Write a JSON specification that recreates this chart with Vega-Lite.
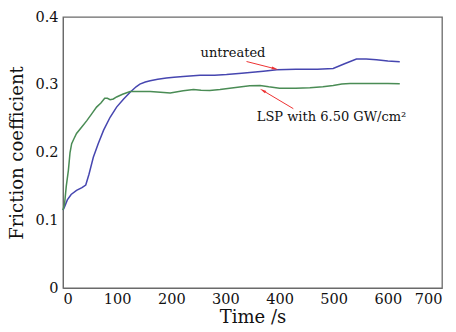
{
  "$schema": "https://vega.github.io/schema/vega-lite/v6.json",
  "width": 379,
  "height": 271,
  "autosize": "none",
  "padding": {"left": 63, "top": 17, "right": 14, "bottom": 44},
  "background": "white",
  "config": {
    "view": {"stroke": "#6a6a6a", "strokeWidth": 1.3},
    "font": "DejaVu Serif",
    "axis": {
      "labelFont": "DejaVu Serif",
      "titleFont": "DejaVu Serif",
      "labelColor": "#111",
      "titleColor": "#111",
      "labelFontSize": 14.5,
      "titleFontSize": 18,
      "titleFontWeight": "normal",
      "domainColor": "#6a6a6a",
      "tickColor": "#555555",
      "tickWidth": 1,
      "grid": false,
      "labelOverlap": false,
      "zindex": 1
    }
  },
  "datasets": {
    "friction": [
      {"series": "untreated", "t": 0, "f": 0.115},
      {"series": "untreated", "t": 3, "f": 0.12},
      {"series": "untreated", "t": 8, "f": 0.13},
      {"series": "untreated", "t": 15, "f": 0.138},
      {"series": "untreated", "t": 25, "f": 0.144},
      {"series": "untreated", "t": 35, "f": 0.148},
      {"series": "untreated", "t": 42, "f": 0.152},
      {"series": "untreated", "t": 48, "f": 0.168},
      {"series": "untreated", "t": 56, "f": 0.193},
      {"series": "untreated", "t": 65, "f": 0.213},
      {"series": "untreated", "t": 75, "f": 0.233},
      {"series": "untreated", "t": 87, "f": 0.252},
      {"series": "untreated", "t": 99, "f": 0.267},
      {"series": "untreated", "t": 112, "f": 0.279},
      {"series": "untreated", "t": 124, "f": 0.289},
      {"series": "untreated", "t": 135, "f": 0.297},
      {"series": "untreated", "t": 142, "f": 0.301},
      {"series": "untreated", "t": 152, "f": 0.304},
      {"series": "untreated", "t": 161, "f": 0.306},
      {"series": "untreated", "t": 175, "f": 0.308},
      {"series": "untreated", "t": 191, "f": 0.31},
      {"series": "untreated", "t": 205, "f": 0.311},
      {"series": "untreated", "t": 222, "f": 0.312},
      {"series": "untreated", "t": 253, "f": 0.314},
      {"series": "untreated", "t": 280, "f": 0.314},
      {"series": "untreated", "t": 302, "f": 0.315},
      {"series": "untreated", "t": 330, "f": 0.317},
      {"series": "untreated", "t": 345, "f": 0.318},
      {"series": "untreated", "t": 370, "f": 0.32},
      {"series": "untreated", "t": 395, "f": 0.322},
      {"series": "untreated", "t": 430, "f": 0.323},
      {"series": "untreated", "t": 470, "f": 0.323},
      {"series": "untreated", "t": 499, "f": 0.324},
      {"series": "untreated", "t": 520, "f": 0.331},
      {"series": "untreated", "t": 542, "f": 0.338},
      {"series": "untreated", "t": 560, "f": 0.338},
      {"series": "untreated", "t": 579, "f": 0.337},
      {"series": "untreated", "t": 600, "f": 0.335},
      {"series": "untreated", "t": 622, "f": 0.334},
      {"series": "LSP", "t": 0, "f": 0.115},
      {"series": "LSP", "t": 3, "f": 0.125},
      {"series": "LSP", "t": 6, "f": 0.15},
      {"series": "LSP", "t": 10, "f": 0.174},
      {"series": "LSP", "t": 13, "f": 0.2},
      {"series": "LSP", "t": 16, "f": 0.213},
      {"series": "LSP", "t": 20, "f": 0.22},
      {"series": "LSP", "t": 25, "f": 0.228},
      {"series": "LSP", "t": 35, "f": 0.238},
      {"series": "LSP", "t": 44, "f": 0.247},
      {"series": "LSP", "t": 53, "f": 0.257},
      {"series": "LSP", "t": 62, "f": 0.267},
      {"series": "LSP", "t": 70, "f": 0.273},
      {"series": "LSP", "t": 77, "f": 0.28},
      {"series": "LSP", "t": 82, "f": 0.28},
      {"series": "LSP", "t": 87, "f": 0.278},
      {"series": "LSP", "t": 93, "f": 0.279},
      {"series": "LSP", "t": 99, "f": 0.282},
      {"series": "LSP", "t": 110, "f": 0.286},
      {"series": "LSP", "t": 124, "f": 0.29},
      {"series": "LSP", "t": 140, "f": 0.29},
      {"series": "LSP", "t": 161, "f": 0.29},
      {"series": "LSP", "t": 180, "f": 0.289},
      {"series": "LSP", "t": 198, "f": 0.288},
      {"series": "LSP", "t": 222, "f": 0.291},
      {"series": "LSP", "t": 241, "f": 0.293},
      {"series": "LSP", "t": 255, "f": 0.292},
      {"series": "LSP", "t": 271, "f": 0.2915},
      {"series": "LSP", "t": 290, "f": 0.293},
      {"series": "LSP", "t": 308, "f": 0.295},
      {"series": "LSP", "t": 330, "f": 0.297},
      {"series": "LSP", "t": 345, "f": 0.2985},
      {"series": "LSP", "t": 364, "f": 0.299},
      {"series": "LSP", "t": 380, "f": 0.297},
      {"series": "LSP", "t": 400, "f": 0.295},
      {"series": "LSP", "t": 430, "f": 0.295},
      {"series": "LSP", "t": 456, "f": 0.2955},
      {"series": "LSP", "t": 480, "f": 0.297},
      {"series": "LSP", "t": 499, "f": 0.299},
      {"series": "LSP", "t": 515, "f": 0.301},
      {"series": "LSP", "t": 530, "f": 0.302},
      {"series": "LSP", "t": 570, "f": 0.302},
      {"series": "LSP", "t": 600, "f": 0.302},
      {"series": "LSP", "t": 622, "f": 0.3015}
    ],
    "labels": [
      {"name": "untreated", "t": 314, "f": 0.3476, "label": "untreated"},
      {"name": "LSP", "t": 496, "f": 0.252, "label": "LSP with 6.50 GW/cm²"}
    ],
    "arrows": [
      {"name": "untreated", "t": 391.6, "f": 0.3236, "t2": 339, "f2": 0.3343},
      {"name": "LSP", "t": 368.9, "f": 0.2916, "t2": 425.4, "f2": 0.2647}
    ]
  },
  "encoding": {
    "y": {
      "field": "f", "type": "quantitative",
      "scale": {"domain": [0, 0.4], "nice": false},
      "axis": {
        "title": "Friction coefficient",
        "values": [0,0.02,0.04,0.06,0.08,0.1,0.12,0.14,0.16,0.18,0.2,0.22,0.24,0.26,0.28,0.3,0.32,0.34,0.36,0.38,0.4],
        "labelExpr": "abs(datum.value*10 - round(datum.value*10)) < 1e-6 ? (datum.value === 0 ? '0' : format(datum.value, '.1f')) : ''",
        "tickSize": 0,
        "encode": {"ticks": {"update": {"x2": {"signal": "abs(datum.value*10 - round(datum.value*10)) < 1e-6 ? 6 : 3"}}}},
        "labelPadding": 5,
        "titlePadding": 8
      }
    }
  },
  "layer": [
    {
      "data": {"name": "friction"},
      "mark": {"type": "line", "strokeWidth": 1.5, "interpolate": "linear"},
      "encoding": {
        "x": {
          "field": "t", "type": "quantitative",
          "scale": {"domain": [0, 700], "nice": false},
          "axis": {
            "title": "Time /s",
            "values": [0,20,40,60,80,100,120,140,160,180,200,220,240,260,280,300,320,340,360,380,400,420,440,460,480,500,520,540,560,580,600,620,640,660,680,700],
            "labelExpr": "datum.value % 100 === 0 ? datum.label : ''",
            "tickSize": 0,
            "encode": {"ticks": {"update": {"y2": {"signal": "datum.value % 100 === 0 ? -6 : -3"}}}},
            "labelPadding": 4,
            "titlePadding": 3
          }
        },
        "detail": {"field": "series"},
        "color": {
          "field": "series", "type": "nominal",
          "scale": {"domain": ["untreated", "LSP"], "range": ["#4646b0", "#4a8c55"]},
          "legend": null
        }
      }
    },
    {
      "data": {"name": "arrows"},
      "mark": {"type": "rule", "color": "#ee3333", "strokeWidth": 1},
      "encoding": {
        "x": {"field": "t", "type": "quantitative", "axis": null},
        "x2": {"field": "t2"},
        "y2": {"field": "f2"}
      }
    },
    {
      "data": {"name": "arrows"},
      "transform": [{"filter": "datum.name === 'untreated'"}],
      "mark": {"type": "point", "shape": "M0,-1L-0.4,1L0.4,1Z", "filled": true, "color": "#ee3333", "size": 45, "angle": 104.5, "opacity": 1},
      "encoding": {
        "x": {"field": "t", "type": "quantitative", "axis": null}
      }
    },
    {
      "data": {"name": "arrows"},
      "transform": [{"filter": "datum.name === 'LSP'"}],
      "mark": {"type": "point", "shape": "M0,-1L-0.4,1L0.4,1Z", "filled": true, "color": "#ee3333", "size": 45, "angle": 301, "opacity": 1},
      "encoding": {
        "x": {"field": "t", "type": "quantitative", "axis": null}
      }
    },
    {
      "data": {"name": "labels"},
      "mark": {"type": "text", "font": "DejaVu Serif", "fontSize": 13, "color": "#111", "align": "center", "baseline": "middle"},
      "encoding": {
        "x": {
          "field": "t", "type": "quantitative",
          "axis": {
            "orient": "top", "title": null, "labels": false, "domain": false,
            "values": [0,20,40,60,80,100,120,140,160,180,200,220,240,260,280,300,320,340,360,380,400,420,440,460,480,500,520,540,560,580,600,620,640,660,680,700],
            "tickSize": 0,
            "encode": {"ticks": {"update": {"y2": {"value": 3}}}},
            "tickColor": "#999999"
          }
        },
        "text": {"field": "label"}
      }
    }
  ],
  "resolve": {"axis": {"x": "independent"}}
}
